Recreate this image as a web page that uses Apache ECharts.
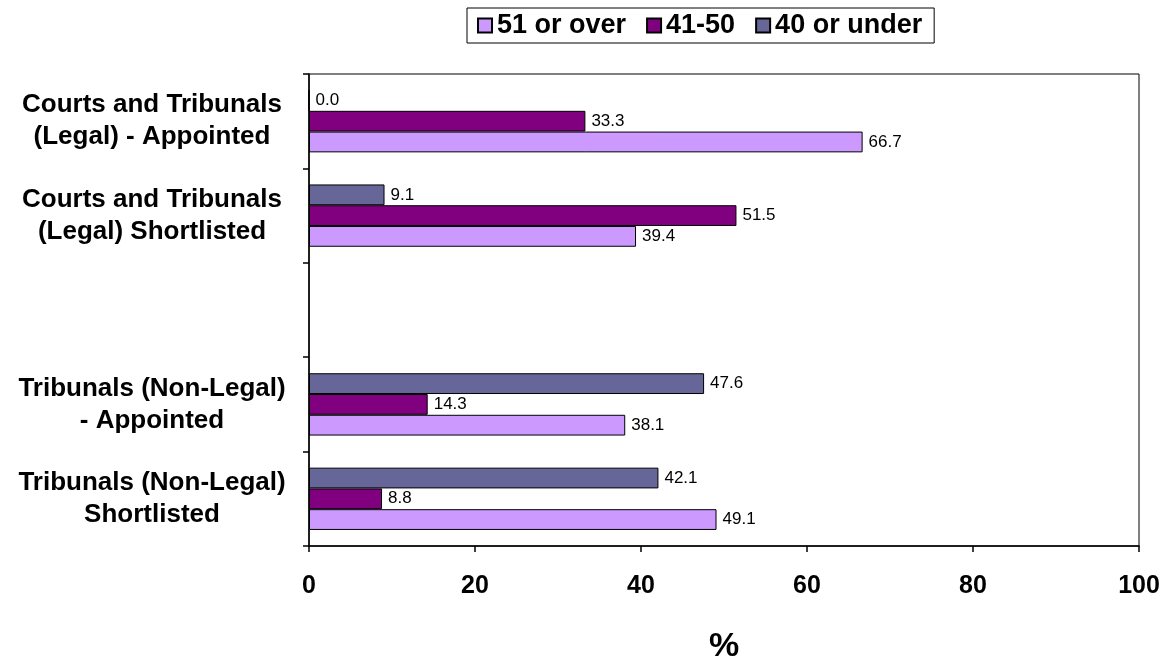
<!DOCTYPE html>
<html>
<head>
<meta charset="utf-8">
<script src="https://cdn.jsdelivr.net/npm/echarts@6/dist/echarts.min.js"></script>
<style>
  html, body { margin: 0; padding: 0; background: #fff; }
  #chart { width: 1168px; height: 663px; }
</style>
</head>
<body>
<div id="chart"></div>
<script>
// Appointment categories, top to bottom (the blank slot separates the two groups)
const categories = [
  'Courts and Tribunals\n(Legal) - Appointed',
  'Courts and Tribunals\n(Legal) Shortlisted',
  '',
  'Tribunals (Non-Legal)\n- Appointed',
  'Tribunals (Non-Legal)\nShortlisted'
];

// Age-band shares, in percent
const age40OrUnder = [0.0, 9.1, null, 47.6, 42.1];
const age41to50    = [33.3, 51.5, null, 14.3, 8.8];
const age51OrOver  = [66.7, 39.4, null, 38.1, 49.1];

const legendOrder = ['51 or over', '41-50', '40 or under'];
const xTicks = [0, 20, 40, 60, 80, 100];

const FONT = 'Arial, "Liberation Sans", Helvetica, sans-serif';

function barSeries(name, data, color) {
  return {
    name: name,
    type: 'bar',
    data: data,
    barGap: '0%',
    barCategoryGap: '34%',
    itemStyle: { color: color, borderColor: '#000', borderWidth: 1 },
    label: {
      show: true,
      position: 'right',
      distance: 6,
      color: '#000',
      fontFamily: FONT,
      fontSize: 17,
      formatter: p => (p.value == null ? '' : Number(p.value).toFixed(1))
    },
    emphasis: { disabled: true },
    animation: false
  };
}

const chart = echarts.init(document.getElementById('chart'), null, { renderer: 'canvas' });
chart.setOption({
  backgroundColor: '#fff',
  animation: false,
  legend: {
    data: legendOrder,
    left: 467,
    top: 8,
    orient: 'horizontal',
    borderColor: '#000',
    borderWidth: 1,
    padding: [4, 12, 4, 10],
    itemGap: 20,
    itemWidth: 14,
    itemHeight: 14,
    icon: 'rect',
    selectedMode: false,
    textStyle: { fontFamily: FONT, fontWeight: 'bold', fontSize: 27, color: '#000' }
  },
  grid: {
    left: 309, right: 29, top: 74, bottom: 117,
    outerBoundsMode: 'none',
    containLabel: false,
    show: true, borderColor: '#000', borderWidth: 1, backgroundColor: 'transparent'
  },
  xAxis: {
    type: 'value',
    min: xTicks[0],
    max: xTicks[xTicks.length - 1],
    interval: 20,
    name: '%',
    nameLocation: 'middle',
    nameGap: 84,
    nameTextStyle: { fontFamily: FONT, fontWeight: 'bold', fontSize: 34, color: '#000' },
    axisLine: { show: true, lineStyle: { color: '#000', width: 1.5 } },
    axisTick: { show: true, length: 6, lineStyle: { color: '#000', width: 1.5 } },
    splitLine: { show: false },
    axisLabel: { margin: 28, fontFamily: FONT, fontWeight: 'bold', fontSize: 25, color: '#000' }
  },
  yAxis: {
    type: 'category',
    data: categories,
    inverse: true,
    axisLine: { show: true, lineStyle: { color: '#000', width: 1.5 } },
    axisTick: { show: true, length: 6, lineStyle: { color: '#000', width: 1.5 } },
    axisLabel: {
      margin: 157,
      align: 'center',
      fontFamily: FONT,
      fontWeight: 'bold',
      fontSize: 26,
      lineHeight: 32,
      color: '#000'
    }
  },
  series: [
    barSeries('40 or under', age40OrUnder, '#666699'),
    barSeries('41-50', age41to50, '#800080'),
    barSeries('51 or over', age51OrOver, '#CC99FF')
  ]
});
</script>
</body>
</html>
